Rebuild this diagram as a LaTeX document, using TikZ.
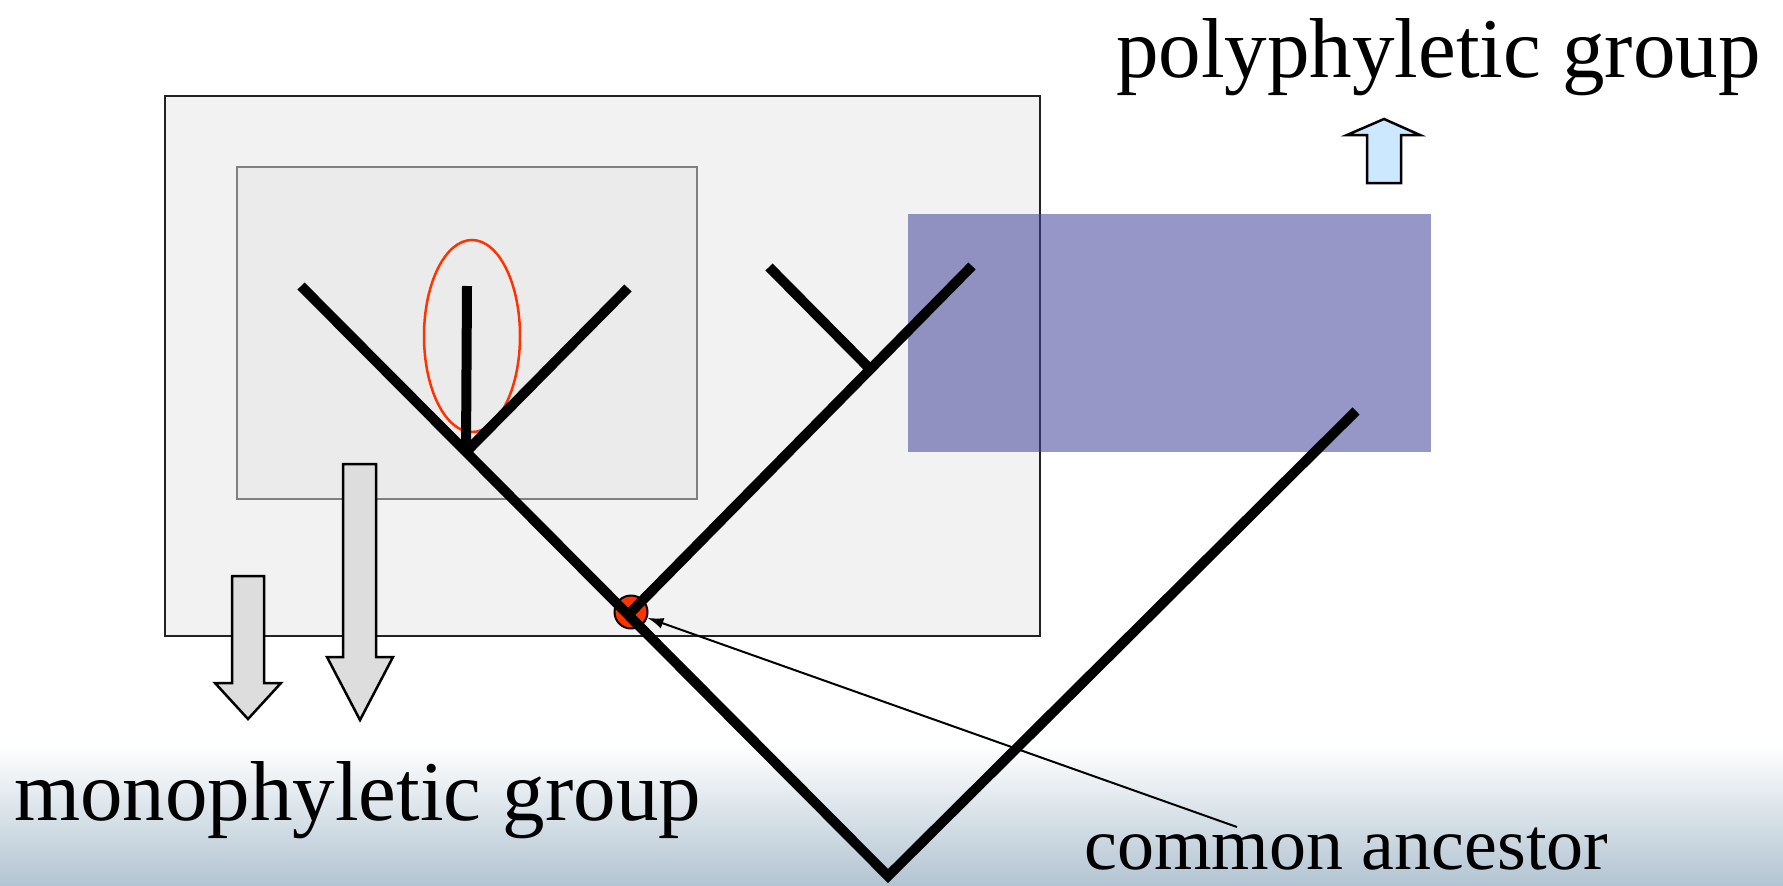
\documentclass[tikz,border=0pt]{standalone}
\usepackage{fontspec}
\setmainfont{Liberation Serif}
\usetikzlibrary{arrows.meta}
\definecolor{outerfill}{HTML}{F2F2F2}
\definecolor{outerline}{HTML}{222222}
\definecolor{innerfill}{HTML}{EBEBEB}
\definecolor{innerline}{HTML}{808080}
\definecolor{polyfill}{RGB}{64,64,153}
\definecolor{dotred}{HTML}{FF3300}
\definecolor{grayarrow}{HTML}{DDDDDD}
\definecolor{bluearrow}{HTML}{CCE8FF}
\definecolor{bgblue}{HTML}{B2C4D2}
\begin{document}
\begin{tikzpicture}[x=1pt,y=-1pt,
  treeline/.style={line width=10pt, line cap=butt, line join=miter},
  blockarrow/.style={line width=2.5pt, line join=miter, draw=black},
  textlabel/.style={inner sep=0pt, anchor=base west},
  bigtext/.style={font=\fontsize{85}{100}\selectfont},
  midtext/.style={font=\fontsize{74}{88}\selectfont}]
\useasboundingbox (0,0) rectangle (1783,886);
\fill[white] (0,0) rectangle (1783,886);
\shade[top color=white, bottom color=bgblue] (0,745) rectangle (1783,886);
% boxes
\draw[line width=2pt, draw=outerline, fill=outerfill] (164.5,95.5) rectangle (1040,636);
\draw[line width=2pt, draw=innerline, fill=innerfill] (237,167) rectangle (697,499);
% polyphyletic highlight
\fill[polyfill, opacity=0.54] (908,214) rectangle (1431,452);
% red ellipse
\draw[dotred, line width=2.5pt] (472,336) ellipse [x radius=48, y radius=96];
% common ancestor dot
\node[circle, fill=dotred, draw=black, line width=2pt, minimum size=33pt, inner sep=0pt] (ca) at (631,612) {};
% tree coordinates
\coordinate (root) at (888,876);
\coordinate (leafA) at (301,286);
\coordinate (nodeB) at (466,452);
\coordinate (leafB1) at (467,286);
\coordinate (leafB2) at (628,288);
\coordinate (leafC) at (972,266);
\coordinate (nodeD) at (869,368);
\coordinate (leafD) at (769,267);
\coordinate (leafE) at (1356,411);
% tree
\draw[treeline] (leafA) -- (root) -- (leafE);
\draw[treeline] (ca.center) -- (leafC);
\draw[treeline] (nodeB) -- (leafB2);
\draw[treeline] (nodeB) -- (leafB1);
\draw[treeline] (nodeD) -- (leafD);
% block arrows
\draw[blockarrow, fill=grayarrow] (232,576) -- (264,576) -- (264,683) -- (281,683) -- (248,719) -- (215,683) -- (232,683) -- cycle;
\draw[blockarrow, fill=grayarrow] (343,464) -- (376,464) -- (376,657) -- (393,657) -- (360,720) -- (327,657) -- (343,657) -- cycle;
\draw[blockarrow, fill=bluearrow] (1384,119) -- (1420,135) -- (1401,135) -- (1401,183) -- (1367,183) -- (1367,135) -- (1347,135) -- cycle;
% labels
\node[textlabel, bigtext] (poly) at (1116,77) {polyphyletic group};
\node[textlabel, bigtext] (mono) at (14,820) {monophyletic group};
\node[textlabel, midtext] (anc) at (1084,869) {common ancestor};
\coordinate (callout) at (1237,827);
\draw[line width=2pt, -{Latex[length=16pt,width=11pt]}] (callout) -- (ca);
\end{tikzpicture}
\end{document}
